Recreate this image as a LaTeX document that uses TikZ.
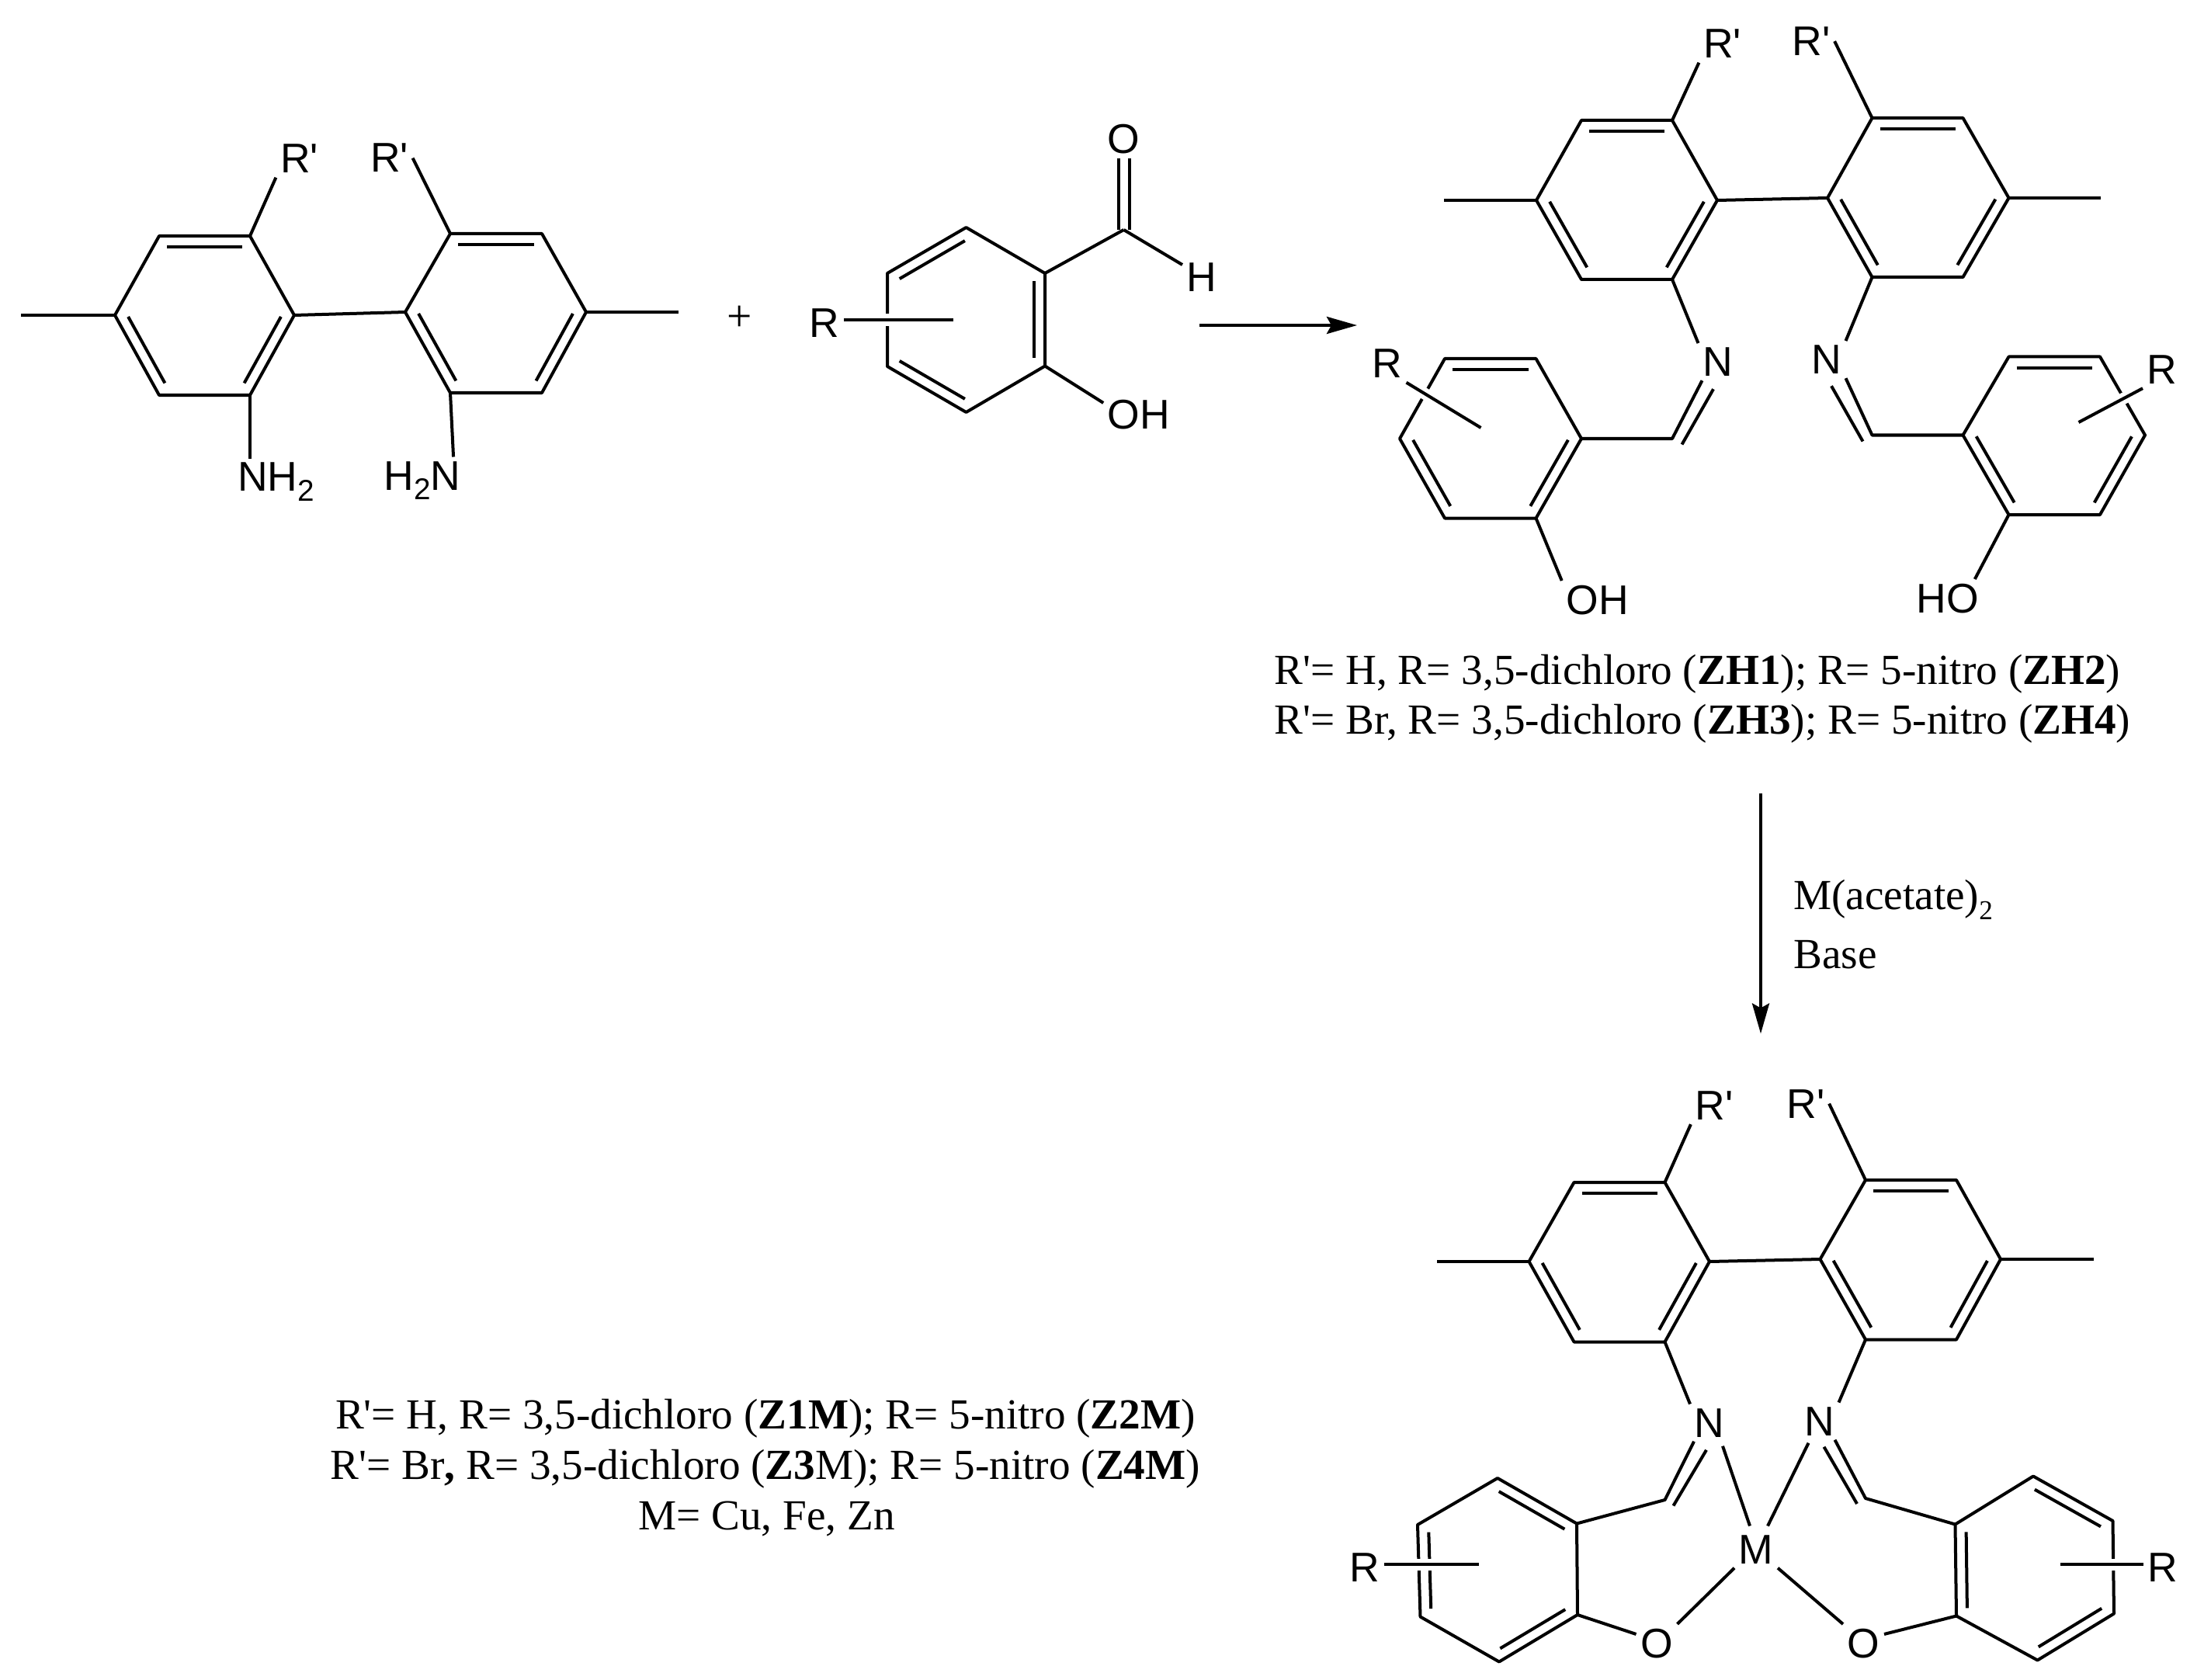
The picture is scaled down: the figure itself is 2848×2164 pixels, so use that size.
\documentclass[tikz,border=0pt]{standalone}
\usepackage{fontspec}
\setmainfont{Liberation Serif}
\newfontfamily\atomfont{Liberation Sans}
\usetikzlibrary{arrows.meta,calc}
\newcommand{\Rp}{R\textquotesingle}
\newcommand{\lowtwo}[1]{\raisebox{-1.25mm}{\fontsize{#1}{12}\selectfont 2}}
\tikzset{
  bond/.style={line width=0.4mm, line join=round},
  subst/.style={bond, preaction={draw=white, line width=1.5mm}},
  arr/.style={-{Stealth[length=3.9mm,width=2.2mm,inset=0.6mm]}, line width=0.4mm},
  atom/.style={font=\atomfont\fontsize{15.2}{18}\selectfont, inner sep=0.5mm, anchor=base},
  captext/.style={font=\fontsize{15.7}{18}\selectfont, inner sep=0pt, anchor=base west},
  capmid/.style={captext, anchor=base}
}
% inner line of a double bond, on the right of the way from #1 to #2
\newcommand{\innerbond}[2]{\draw[bond, shorten >=1mm, shorten <=1mm] ($(#1)!1.4mm!-90:(#2)$) -- ($(#2)!1.4mm!90:(#1)$);}
% six-membered ring, vertices named clockwise
\newcommand{\arene}[1]{
  \draw[bond] (#11) -- (#12) -- (#13) -- (#14) -- (#15) -- (#16) -- cycle;
  \innerbond{#12}{#13}
  \innerbond{#14}{#15}
  \innerbond{#16}{#11}
}
\begin{document}
\begin{tikzpicture}[x=0.01cm, y=-0.01cm]
  \useasboundingbox (0,0) rectangle (2848,2164);

  % diamine
  \coordinate (a1) at (148,406);
  \coordinate (a2) at (205,304);
  \coordinate (a3) at (322,304);
  \coordinate (a4) at (379,406);
  \coordinate (a5) at (322,509);
  \coordinate (a6) at (205,509);
  \coordinate (b1) at (522,402);
  \coordinate (b2) at (580,301);
  \coordinate (b3) at (698,301);
  \coordinate (b4) at (755,402);
  \coordinate (b5) at (698,506);
  \coordinate (b6) at (580,506);
  \coordinate (meA) at (27,406);
  \coordinate (meB) at (874,402);
  \node[atom] (rpA) at (385.5,223) {\Rp};
  \node[atom] (rpB) at (501.5,222) {\Rp};
  \node[atom] (nhA) at (355.5,633) {NH\lowtwo{11}};
  \node[atom] (nhB) at (544,631) {H\lowtwo{11}N};
  \arene{a}
  \arene{b}
  \draw[bond] (a4) -- (b1);
  \draw[bond] (a1) -- (meA);
  \draw[bond] (b4) -- (meB);
  \draw[bond] (a3) -- (rpA.south west);
  \draw[bond] (b2) -- (rpB.east);
  \draw[bond] (a5) -- (a5 |- nhA.north);
  \draw[bond] (b6) -- ([xshift=-1.5mm]nhB.north east);

  \node[font=\fontsize{16.3}{18}\selectfont, inner sep=0pt] (plus) at (953,410) {+};

  % salicylaldehyde
  \coordinate (c1) at (1244.5,293);
  \coordinate (c2) at (1346,352);
  \coordinate (c3) at (1346,471.5);
  \coordinate (c4) at (1244.5,531);
  \coordinate (c5) at (1143,472);
  \coordinate (c6) at (1143,352);
  \coordinate (cho) at (1447.5,296);
  \coordinate (rcEnd) at (1227.5,412);
  \node[atom] (oAld) at (1447.5,198) {O};
  \node[atom] (hAld) at (1548,375.5) {H};
  \node[atom] (ohAld) at (1467,553) {OH};
  \node[atom] (rAld) at (1062,435) {R};
  \arene{c}
  \draw[bond] (c2) -- (cho);
  \draw[bond] ([xshift=-0.7mm]oAld.south) -- ([xshift=-0.7mm]cho);
  \draw[bond] ([xshift=0.7mm]oAld.south) -- ([xshift=0.7mm]cho);
  \draw[bond] (cho) -- ([yshift=-0.8mm]hAld.north west);
  \draw[bond] (c3) -- ([yshift=-0.9mm]ohAld.north west);
  \draw[subst] (rAld.east |- rcEnd) -- (rcEnd);

  \coordinate (arrAs) at (1545,419);
  \coordinate (arrAe) at (1748,419);
  \draw[arr] (arrAs) -- (arrAe);

  % schiff base ligand
  \coordinate (d1) at (1979,258);
  \coordinate (d2) at (2037,155);
  \coordinate (d3) at (2154,155);
  \coordinate (d4) at (2212,258);
  \coordinate (d5) at (2154,360);
  \coordinate (d6) at (2037,360);
  \coordinate (e1) at (2354,255);
  \coordinate (e2) at (2411.5,152);
  \coordinate (e3) at (2528.5,152);
  \coordinate (e4) at (2587.5,255);
  \coordinate (e5) at (2528.5,357);
  \coordinate (e6) at (2411.5,357);
  \coordinate (f1) at (1803,565);
  \coordinate (f2) at (1861,462);
  \coordinate (f3) at (1978.5,462);
  \coordinate (f4) at (2037,565);
  \coordinate (f5) at (1978.5,667.5);
  \coordinate (f6) at (1861,667.5);
  \coordinate (g1) at (2528.5,560.5);
  \coordinate (g2) at (2587.5,459.5);
  \coordinate (g3) at (2705,459.5);
  \coordinate (g4) at (2763,560.5);
  \coordinate (g5) at (2705,663);
  \coordinate (g6) at (2587.5,663);
  \coordinate (meD) at (1860,258);
  \coordinate (meE) at (2706,255);
  \coordinate (chF) at (2154,565);
  \coordinate (chFb) at (2166.5,572.5);
  \coordinate (chG) at (2411.5,560.5);
  \coordinate (chGb) at (2399.5,568.5);
  \coordinate (rfEnd) at (1907.5,551);
  \coordinate (rgEnd) at (2677.5,544);
  \node[atom] (rpD) at (2218.5,75) {\Rp};
  \node[atom] (rpE) at (2333,71.5) {\Rp};
  \node[atom] (nD) at (2212.5,484.5) {N};
  \node[atom] (nE) at (2352.5,481.5) {N};
  \node[atom] (rF) at (1786.5,487) {R};
  \node[atom] (rG) at (2785,494.5) {R};
  \node[atom] (ohF) at (2057.5,791) {OH};
  \node[atom] (hoG) at (2509,789) {HO};
  \arene{d}
  \arene{e}
  \arene{f}
  \arene{g}
  \draw[bond] (d4) -- (e1);
  \draw[bond] (d1) -- (meD);
  \draw[bond] (e4) -- (meE);
  \draw[bond] (d3) -- (rpD.south west);
  \draw[bond] (e2) -- (rpE.east);
  \draw[bond] (d5) -- (nD.north west);
  \draw[bond] (e6) -- (nE.north east);
  \draw[bond] ([xshift=0.5mm]nD.south west) -- (chF) -- (f4);
  \draw[bond] ([shift={(-0.55mm,-1.1mm)}]nD.south) -- (chFb);
  \draw[bond] (nE.south east) -- (chG) -- (g1);
  \draw[bond] ([shift={(0.65mm,-1mm)}]nE.south) -- (chGb);
  \draw[bond] (f5) -- (ohF.north west);
  \draw[bond] (g6) -- ([xshift=-1.1mm]hoG.north east);
  \draw[subst] (rF.south east) -- (rfEnd);
  \draw[subst] (rG.south west) -- (rgEnd);

  \node[captext] (capZHa) at (1641,881.5) {\Rp= H, R= 3,5-dichloro (\textbf{ZH1}); R= 5-nitro (\textbf{ZH2})};
  \node[captext] (capZHb) at (1641,945.5) {\Rp= Br, R= 3,5-dichloro (\textbf{ZH3}); R= 5-nitro (\textbf{ZH4})};

  \coordinate (arrBs) at (2268,1022);
  \coordinate (arrBe) at (2268,1331.5);
  \draw[arr] (arrBs) -- (arrBe);
  \node[captext] (reagA) at (2309.5,1171.5) {M(acetate)\lowtwo{10}};
  \node[captext] (reagB) at (2309.5,1247) {Base};

  % metal complex
  \coordinate (h1) at (1969.5,1625);
  \coordinate (h2) at (2027.5,1523);
  \coordinate (h3) at (2144.5,1523);
  \coordinate (h4) at (2202,1625);
  \coordinate (h5) at (2144.5,1728.5);
  \coordinate (h6) at (2027.5,1728.5);
  \coordinate (i1) at (2344.5,1622);
  \coordinate (i2) at (2403,1520);
  \coordinate (i3) at (2520,1520);
  \coordinate (i4) at (2577,1622);
  \coordinate (i5) at (2520,1725.5);
  \coordinate (i6) at (2403,1725.5);
  \coordinate (j1) at (1826,1964);
  \coordinate (j2) at (1929,1904);
  \coordinate (j3) at (2031,1962.5);
  \coordinate (j4) at (2032,2080);
  \coordinate (j5) at (1931,2140.5);
  \coordinate (j6) at (1829.5,2082.5);
  \coordinate (k1) at (2518.5,1963.5);
  \coordinate (k2) at (2619,1901.5);
  \coordinate (k3) at (2721.5,1959);
  \coordinate (k4) at (2723,2078.5);
  \coordinate (k5) at (2624.5,2138.5);
  \coordinate (k6) at (2520,2081.5);
  \coordinate (meH) at (1850.5,1625);
  \coordinate (meI) at (2697,1622);
  \coordinate (chJ) at (2144.5,1932);
  \coordinate (chJb) at (2155.5,1939.5);
  \coordinate (chK) at (2403,1930);
  \coordinate (chKb) at (2392,1937);
  \coordinate (rjEnd) at (1905,2015);
  \coordinate (rkEnd) at (2654,2015);
  \node[atom] (rpH) at (2208,1442.5) {\Rp};
  \node[atom] (rpI) at (2326,1440) {\Rp};
  \node[atom] (nH) at (2202,1851) {N};
  \node[atom] (nI) at (2343.5,1849) {N};
  \node[atom] (rJ) at (1758,2037.5) {R};
  \node[atom] (rK) at (2785.5,2037.5) {R};
  \node[atom] (metal) at (2262,2014) {M};
  \node[atom] (oJ) at (2134,2135) {O};
  \node[atom] (oK) at (2400.5,2135) {O};
  \arene{h}
  \arene{i}
  \arene{j}
  \arene{k}
  \draw[bond] (h4) -- (i1);
  \draw[bond] (h1) -- (meH);
  \draw[bond] (i4) -- (meI);
  \draw[bond] (h3) -- (rpH.south west);
  \draw[bond] (i2) -- (rpI.east);
  \draw[bond] (h5) -- (nH.north west);
  \draw[bond] (i6) -- (nI.north east);
  \draw[bond] ([xshift=0.5mm]nH.south west) -- (chJ) -- (j3);
  \draw[bond] ([shift={(-0.4mm,-1.1mm)}]nH.south) -- (chJb);
  \draw[bond] ([xshift=-0.5mm]nI.south east) -- (chK) -- (k1);
  \draw[bond] ([shift={(0.6mm,-0.9mm)}]nI.south) -- (chKb);
  \draw[bond] ([shift={(-0.8mm,-0.6mm)}]nH.south east) -- ([shift={(-0.8mm,0.6mm)}]metal.north);
  \draw[bond] ([shift={(-1.4mm,-0.4mm)}]nI.south) -- ([shift={(1.5mm,0.6mm)}]metal.north);
  \draw[bond] (metal.south west) -- (oJ.north east);
  \draw[bond] (metal.south east) -- (oK.north west);
  \draw[bond] (j4) -- ([yshift=-1.3mm]oJ.north west);
  \draw[bond] (k6) -- ([yshift=-1.3mm]oK.north east);
  \draw[subst] (rJ.east |- rjEnd) -- (rjEnd);
  \draw[subst] (rK.west |- rkEnd) -- (rkEnd);

  \node[capmid] (capZa) at (986,1840) {\Rp= H, R= 3,5-dichloro (\textbf{Z1M}); R= 5-nitro (\textbf{Z2M})};
  \node[capmid] (capZb) at (986,1905) {\Rp= Br\textbf{,} R= 3,5-dichloro (\textbf{Z3}M); R= 5-nitro (\textbf{Z4M})};
  \node[capmid] (capZc) at (987.5,1970) {M= Cu, Fe, Zn};
\end{tikzpicture}
\end{document}
